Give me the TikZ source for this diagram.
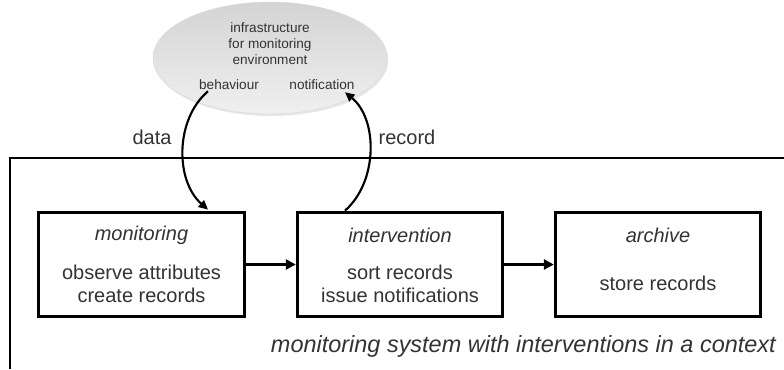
\documentclass[tikz,border=0pt]{standalone}
\usepackage{fontspec}
\setmainfont{Liberation Sans}
\usetikzlibrary{arrows.meta,shadows,calc,shapes.geometric}
\definecolor{txt}{HTML}{333333}
\begin{document}
\begin{tikzpicture}[x=0.75pt,y=-0.75pt,
  proc/.style={draw=black,line width=2.3pt,fill=white,minimum width=154pt,minimum height=78.5pt,inner sep=0pt,
    drop shadow={shadow xshift=1pt,shadow yshift=-1pt,opacity=0.25}},
  lbl/.style={text=txt,font=\fontsize{15}{17.25}\selectfont,align=center,inner sep=0pt},
  ital/.style={lbl,font=\fontsize{15}{17.25}\selectfont\itshape},
  small/.style={text=txt,font=\fontsize{10.2}{12}\selectfont,align=center,inner sep=0pt},
  flow/.style={line width=2.3pt,-{Triangle[length=7.5pt,width=7.5pt]}},
  curvearrow/.style={line width=1.6pt,-{Triangle[length=7pt,width=6.5pt]}}]
\useasboundingbox (0,0) rectangle (784,369);
% outer frame
\coordinate (frTR) at (784,158);
\coordinate (frTL) at (10,158);
\coordinate (frBL) at (10,369);
\draw[line width=2.1pt] (frTR) -- (frTL) -- (frBL);
% ellipse
\node[ellipse,minimum width=175.5pt,minimum height=84pt,inner sep=0pt,top color=gray!34,bottom color=gray!12,draw=gray!30,line width=0.3pt,
  drop shadow={shadow xshift=1pt,shadow yshift=-1.5pt,opacity=0.2}] (env) at (270,58) {};
\node[small] (envtxt) at (270,44) {infrastructure\\for monitoring\\environment};
\node[small] (beh) at (229,85) {behaviour};
\node[small] (notif) at (322,85) {notification};
% boxes
\node[proc] (mon) at (141.5,264.5) {};
\node[proc] (int) at (400,264.5) {};
\node[proc] (arc) at (658,264.5) {};
\node[ital] (monT) at (141.5,235) {monitoring};
\node[lbl] (monB) at (141.5,283.5) {observe attributes\\create records};
\node[ital] (intT) at (400,235) {intervention};
\node[lbl] (intB) at (400,283.5) {sort records\\issue notifications};
\node[ital] (arcT) at (658,235) {archive};
\node[lbl] (arcB) at (658,283) {store records};
% caption
\node[lbl,font=\fontsize{17.6}{20}\selectfont\itshape,anchor=east] (cap) at (776,346) {monitoring system with interventions in a context};
% labels
\node[lbl] (data) at (152,137) {data};
\node[lbl] (rec) at (407,137) {record};
% connectors
\draw[flow] (mon.east) -- (int.west);
\draw[flow] (int.east) -- (arc.west);
\draw[curvearrow] ($(beh.south)+(-21,1)$) .. controls +(-33,28) and +(-33,-29) .. ($(mon.north)+(66.5,-1)$);
\draw[curvearrow] ($(int.north)+(-55,0)$) .. controls +(33,-29) and +(33,27) .. ($(notif.south)+(23,2)$);
\end{tikzpicture}
\end{document}
